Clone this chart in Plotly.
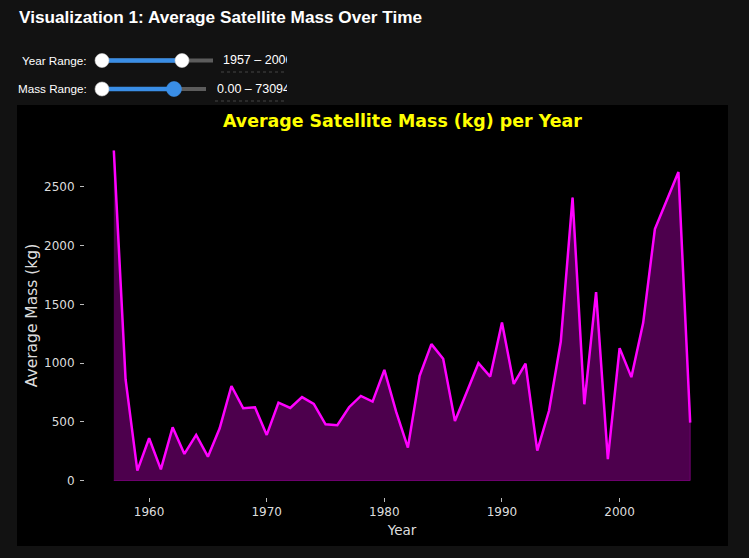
import plotly.graph_objects as go

# ---------------- data ----------------
years = list(range(1957, 2007))
avg_mass = [2810, 860, 84, 360, 95, 453, 226, 388, 203, 445,
            805, 615, 624, 388, 663, 618, 710, 653, 479, 470,
            624, 720, 672, 942, 586, 280, 891, 1161, 1036, 507,
            752, 999, 885, 1345, 822, 995, 254, 594, 1183, 2410,
            649, 1604, 181, 1127, 880, 1340, 2141, 2380, 2627, 493]

chart_title = "Average Satellite Mass (kg) per Year"
page_title = "Visualization 1: Average Satellite Mass Over Time"
x_label = "Year"
y_label = "Average Mass (kg)"
year_range_text = "1957 \u2013 2006"
mass_range_text = "0.00 \u2013 73094"

W, H = 749, 558
ML, MR, MT, MB = 85, 30, 134, 61
PW = W - ML - MR
PH = H - MT - MB


def px(x):
    return (x - ML) / PW


def py(y):
    return (H - MB - y) / PH


BG = "#121212"
BLUE = "#3a8ee6"
TRACK = "#5c5c5c"

fig = go.Figure()

# fill polygon (area under curve, with edge like matplotlib fill_between)
fig.add_trace(go.Scatter(
    x=years + [years[-1], years[0]],
    y=avg_mass + [0, 0],
    mode="lines", fill="toself",
    fillcolor="rgba(128,0,128,0.6)",
    line=dict(color="rgba(128,0,128,0.8)", width=1),
    hoverinfo="skip", showlegend=False))

fig.add_trace(go.Scatter(
    x=years, y=avg_mass, mode="lines",
    line=dict(color="#ff00ff", width=2.5),
    showlegend=False))

span_x = years[-1] - years[0]
ymax = max(avg_mass)

shapes = []
# black chart panel
shapes.append(dict(type="rect", xref="paper", yref="paper", layer="below",
                   x0=px(17), x1=px(728), y0=py(546), y1=py(105),
                   fillcolor="#000000", line=dict(width=0)))


def slider(yc, x_start, x_end, h1, h2, h2_color):
    s = []
    s.append(dict(type="rect", xref="paper", yref="paper",
                  x0=px(x_start), x1=px(x_end), y0=py(yc + 2), y1=py(yc - 2),
                  fillcolor=TRACK, line=dict(width=0)))
    s.append(dict(type="rect", xref="paper", yref="paper",
                  x0=px(h1), x1=px(h2), y0=py(yc + 2.2), y1=py(yc - 2.2),
                  fillcolor=BLUE, line=dict(width=0)))
    for hx, col, r in [(h1, "#ffffff", 7), (h2, h2_color, 7.5 if h2_color != "#ffffff" else 7)]:
        s.append(dict(type="circle", xref="paper", yref="paper",
                      x0=px(hx - r), x1=px(hx + r), y0=py(yc + r), y1=py(yc - r),
                      fillcolor=col, line=dict(color="#cfcfcf" if col == "#ffffff" else col, width=0.6)))
    return s


shapes += slider(60.5, 99, 213, 102, 182, "#ffffff")
shapes += slider(89, 99, 206, 102, 174, BLUE)

# dotted underlines of the range inputs
shapes.append(dict(type="line", xref="paper", yref="paper",
                   x0=px(221), x1=px(287), y0=py(72), y1=py(72),
                   line=dict(color="#444444", width=1, dash="dot")))
shapes.append(dict(type="line", xref="paper", yref="paper",
                   x0=px(215), x1=px(287), y0=py(101), y1=py(101),
                   line=dict(color="#444444", width=1, dash="dot")))

annotations = []
annotations.append(dict(text="<b>" + page_title + "</b>", xref="paper", yref="paper",
                        x=px(17), y=py(17), xanchor="left", yanchor="middle",
                        showarrow=False,
                        font=dict(family="Liberation Sans, Arial", size=17.2, color="#ffffff")))
annotations.append(dict(text="Year Range:", xref="paper", yref="paper",
                        x=px(89), y=py(60.5), xanchor="right", yanchor="middle",
                        showarrow=False,
                        font=dict(family="Liberation Sans, Arial", size=11.7, color="#ffffff")))
annotations.append(dict(text="Mass Range:", xref="paper", yref="paper",
                        x=px(89), y=py(89), xanchor="right", yanchor="middle",
                        showarrow=False,
                        font=dict(family="Liberation Sans, Arial", size=11.7, color="#ffffff")))
annotations.append(dict(text=year_range_text, xref="paper", yref="paper",
                        x=px(221), y=py(60.5), xanchor="left", yanchor="middle",
                        width=64, align="left", showarrow=False,
                        font=dict(family="Liberation Sans, Arial", size=12.5, color="#ffffff")))
annotations.append(dict(text=mass_range_text, xref="paper", yref="paper",
                        x=px(215), y=py(89), xanchor="left", yanchor="middle",
                        width=70, align="left", showarrow=False,
                        font=dict(family="Liberation Sans, Arial", size=12.5, color="#ffffff")))
annotations.append(dict(text="<b>" + chart_title + "</b>", xref="paper", yref="paper",
                        x=0.5, y=py(121), xanchor="center", yanchor="middle",
                        showarrow=False,
                        font=dict(family="DejaVu Sans", size=17.4, color="#ffff00")))

fig.update_layout(
    width=W, height=H,
    margin=dict(l=ML, r=MR, t=MT, b=MB, pad=0),
    paper_bgcolor=BG, plot_bgcolor="#000000",
    shapes=shapes, annotations=annotations,
    font=dict(family="DejaVu Sans", color="#dddddd"),
    xaxis=dict(range=[years[0] - 0.05 * span_x, years[-1] + 0.05 * span_x],
               tickvals=[1960, 1970, 1980, 1990, 2000],
               showgrid=False, zeroline=False, showline=False,
               ticks="outside", ticklen=4, tickwidth=1, tickcolor="#bbbbbb",
               tickfont=dict(family="DejaVu Sans", size=12, color="#dddddd"),
               title=dict(text=x_label, standoff=7,
                          font=dict(family="DejaVu Sans", size=13.5, color="#dddddd"))),
    yaxis=dict(range=[-0.05 * ymax, 1.05 * ymax],
               tickvals=[0, 500, 1000, 1500, 2000, 2500],
               showgrid=False, zeroline=False, showline=False,
               ticks="outside", ticklen=4, tickwidth=1, tickcolor="#bbbbbb",
               ticklabelstandoff=3,
               tickfont=dict(family="DejaVu Sans", size=12, color="#dddddd"),
               title=dict(text=y_label, standoff=2,
                          font=dict(family="DejaVu Sans", size=15.5, color="#dddddd"))),
)

fig.write_html("out.html")
